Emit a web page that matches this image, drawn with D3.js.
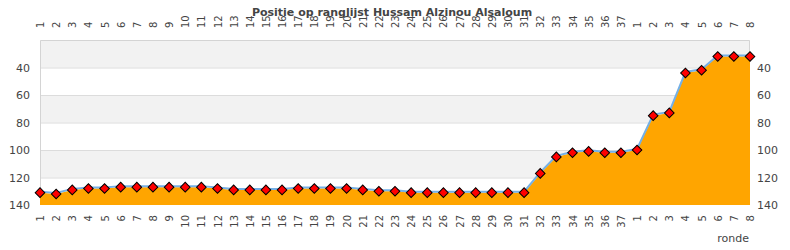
<!DOCTYPE html>
<html>
<head>
<meta charset="utf-8">
<script src="https://cdn.jsdelivr.net/npm/d3@7"></script>
<style>
  body { margin: 0; background: #fff; }
  svg text { font-family: "DejaVu Sans", sans-serif; fill: #444; }
</style>
</head>
<body>
<div id="chart"></div>
<script>
// ronde labels: 37 rounds of the first part, then 8 of the second
const rounds = [
    '1','2','3','4','5','6','7','8','9','10','11','12','13','14','15','16','17','18','19',
    '20','21','22','23','24','25','26','27','28','29','30','31','32','33','34','35','36','37',
    '1','2','3','4','5','6','7','8'
];
const positions = [
    131, 132, 129, 128, 128, 127, 127, 127, 127, 127, 127, 128, 129, 129, 129, 129, 128, 128, 128,
    128, 129, 130, 130, 131, 131, 131, 131, 131, 131, 131, 131, 117, 105, 102, 101, 102, 102,
    100, 75, 73, 44, 42, 32, 32, 32
];
const yTicks = [40, 60, 80, 100, 120, 140];
const bands = [20, 60, 100];

const svgWidth = 790, svgHeight = 250;
const margin = { top: 40, right: 40, bottom: 45, left: 40 };
const width = svgWidth - margin.left - margin.right;
const height = svgHeight - margin.top - margin.bottom;

const svg = d3.select('#chart')
    .append('svg')
    .attr('width', svgWidth)
    .attr('height', svgHeight);

const g = svg.append('g')
    .attr('transform', 'translate(' + margin.left + ',' + margin.top + ')');

const idx = d3.range(positions.length);

const x = d3.scalePoint()
    .domain(idx)
    .range([0, width]);
const y = d3.scaleLinear()
    .domain([20, 140])
    .range([0, height]);

// alternating background bands
g.selectAll('.band')
    .data(bands)
    .enter().append('rect')
    .attr('x', 0)
    .attr('width', width)
    .attr('y', d => y(d))
    .attr('height', d => y(d + 20) - y(d))
    .attr('fill', '#f2f2f2');

// grid lines
g.selectAll('.grid')
    .data(yTicks.slice(0, -1))
    .enter().append('line')
    .attr('x1', 0).attr('x2', width)
    .attr('y1', d => y(d) + 0.5).attr('y2', d => y(d) + 0.5)
    .attr('stroke', '#dcdcdc');

// border
g.append('path')
    .attr('d', 'M0.5,' + height + 'V0.5H' + (width - 0.5) + 'V' + height)
    .attr('fill', 'none')
    .attr('stroke', '#d4d4d4');

const area = d3.area()
    .x(i => x(i))
    .y0(height)
    .y1(i => y(positions[i]));
const line = d3.line()
    .x(i => x(i))
    .y(i => y(positions[i]));

g.append('path')
    .datum(idx)
    .attr('d', area)
    .attr('fill', '#ffa500');

g.append('path')
    .datum(idx)
    .attr('d', line)
    .attr('fill', 'none')
    .attr('stroke', '#74b0e6')
    .attr('stroke-width', 2)
    .attr('transform', 'translate(0,-1)');

g.selectAll('.dot')
    .data(idx)
    .enter().append('path')
    .attr('d', d3.symbol().type(d3.symbolSquare).size(46))
    .attr('transform', i => 'translate(' + x(i) + ',' + y(positions[i]) + ') rotate(45)')
    .attr('fill', '#ff0000')
    .attr('stroke', '#000')
    .attr('stroke-width', 1);

// x labels, top and bottom
const xAxisTop = d3.axisTop(x).tickSize(0).tickPadding(0).tickFormat(i => rounds[i]);
const xAxisBottom = d3.axisBottom(x).tickSize(0).tickPadding(0).tickFormat(i => rounds[i]);

const topAxis = g.append('g').call(xAxisTop);
topAxis.select('.domain').remove();
topAxis.selectAll('text')
    .attr('transform', 'rotate(-90)')
    .attr('x', 12).attr('y', 0).attr('dy', '0.35em')
    .style('text-anchor', 'start')
    .style('font-size', '10px');

const bottomAxis = g.append('g')
    .attr('transform', 'translate(0,' + height + ')')
    .call(xAxisBottom);
bottomAxis.select('.domain').remove();
bottomAxis.selectAll('text')
    .attr('transform', 'rotate(-90)')
    .attr('x', -10).attr('y', 0).attr('dy', '0.35em')
    .style('text-anchor', 'end')
    .style('font-size', '10px');

// y labels, left and right
const leftAxis = g.append('g').call(d3.axisLeft(y).tickValues(yTicks).tickSize(0).tickPadding(10));
leftAxis.select('.domain').remove();
leftAxis.selectAll('text').style('font-size', '11px');

const rightAxis = g.append('g')
    .attr('transform', 'translate(' + width + ',0)')
    .call(d3.axisRight(y).tickValues(yTicks).tickSize(0).tickPadding(7));
rightAxis.select('.domain').remove();
rightAxis.selectAll('text').style('font-size', '11px');

svg.append('text')
    .attr('x', svgWidth / 2 - 3)
    .attr('y', 16)
    .attr('text-anchor', 'middle')
    .style('font-size', '11px')
    .style('font-weight', 'bold')
    .text('Positie op ranglijst Hussam Alzinou Alsaloum');

svg.append('text')
    .attr('x', 749)
    .attr('y', 242)
    .attr('text-anchor', 'end')
    .style('font-size', '11px')
    .text('ronde');
</script>
</body>
</html>
